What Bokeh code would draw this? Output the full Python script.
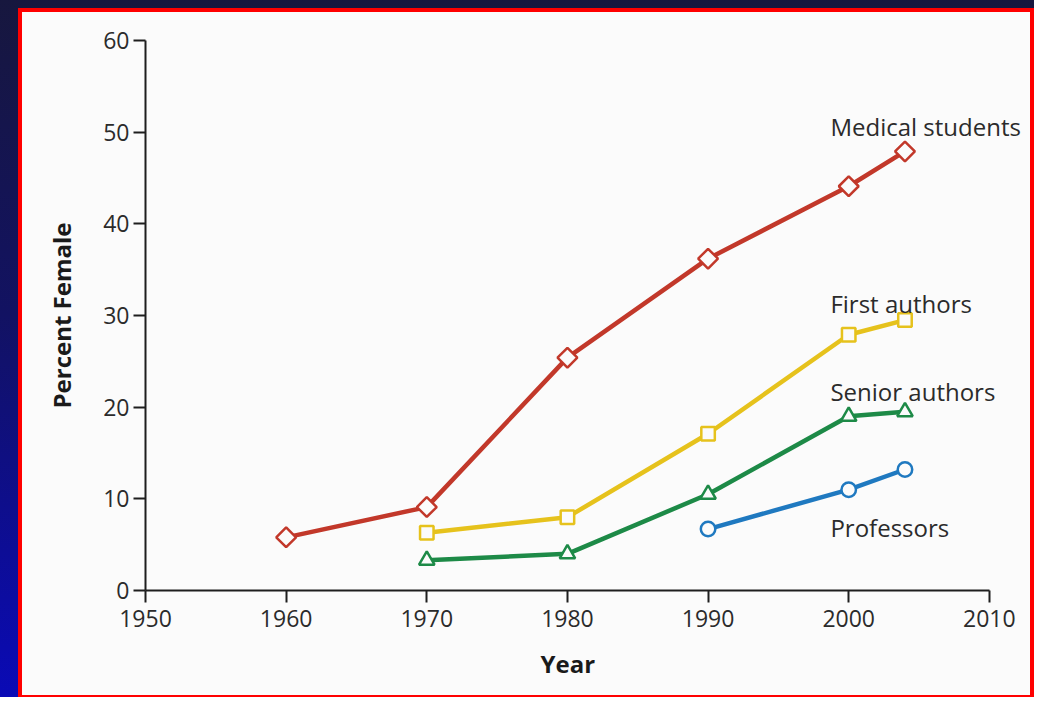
from bokeh.plotting import figure
from bokeh.layouts import column
from bokeh.models import Range1d, FixedTicker
from bokeh.core.properties import value
from bokeh.embed import file_html
from bokeh.resources import INLINE
import math

# ---- data ----
years_med = [1960, 1970, 1980, 1990, 2000, 2004]
pct_med = [5.8, 9.1, 25.4, 36.2, 44.1, 47.9]
years_first = [1970, 1980, 1990, 2000, 2004]
pct_first = [6.3, 8.0, 17.1, 27.9, 29.5]
years_senior = [1970, 1980, 1990, 2000, 2004]
pct_senior = [3.3, 4.0, 10.5, 19.0, 19.5]
years_prof = [1990, 2000, 2004]
pct_prof = [6.7, 11.0, 13.2]
series_names = ["Medical students", "First authors", "Senior authors", "Professors"]
x_ticks = [1950, 1960, 1970, 1980, 1990, 2000, 2010]
y_ticks = [0, 10, 20, 30, 40, 50, 60]

# ---- styling / positions ----
RED = "#c2382a"
YEL = "#e6c21c"
GRN = "#1d8a47"
BLU = "#1f79c0"
PANEL = "#fbfbfb"
FONT = "Open Sans"
label_x = [1998.7, 1998.7, 1998.7, 1998.7]
label_y = [50.6, 31.3, 21.7, 6.9]

# the frame runs a little past 2010 so the series labels are not clipped;
# the x axis itself stops at 2010 (bounds)
p = figure(width=1008, height=683,
           x_range=Range1d(1950, 2012.57), y_range=Range1d(0, 60),
           output_backend="svg", toolbar_location=None,
           title="Year", title_location="below",
           min_border_left=123, min_border_right=5,
           min_border_top=28, min_border_bottom=105,
           background_fill_color=PANEL, border_fill_color=PANEL,
           outline_line_color=None, margin=(4, 4, 2, 4),
           styles={"background-color": PANEL})
p.grid.visible = False

for ax, ticks in ((p.xaxis[0], x_ticks), (p.yaxis[0], y_ticks)):
    ax.ticker = FixedTicker(ticks=ticks)
    ax.axis_line_width = 2
    ax.axis_line_color = "#1e1e1e"
    ax.major_tick_line_width = 2
    ax.major_tick_line_color = "#1e1e1e"
    ax.major_tick_out = 12
    ax.major_tick_in = 0
    ax.minor_tick_line_color = None
    ax.major_label_text_font = FONT
    ax.major_label_text_font_size = "23px"
    ax.major_label_text_color = "#2b2b2b"
    ax.axis_label_text_font = FONT
    ax.axis_label_text_font_size = "24px"
    ax.axis_label_text_font_style = "bold"
    ax.axis_label_text_color = "#1a1a1a"

p.xaxis.bounds = (1950, 2010)
p.yaxis.axis_label = "Percent Female"
p.xaxis.major_label_standoff = 7
p.yaxis.major_label_standoff = 4
p.yaxis.axis_label_standoff = 22

# x-axis title ("Year"), centred under 1980 like the original
p.title.text_font = FONT
p.title.text_font_size = "24px"
p.title.text_font_style = "bold"
p.title.text_color = "#1a1a1a"
p.title.align = "left"
p.title.offset = 395
p.title.standoff = 30

# lines
p.line(years_med, pct_med, line_color=RED, line_width=4.5)
p.line(years_first, pct_first, line_color=YEL, line_width=4.5)
p.line(years_senior, pct_senior, line_color=GRN, line_width=4.5)
p.line(years_prof, pct_prof, line_color=BLU, line_width=4.5)

# markers
p.scatter(years_med, pct_med, marker="square", angle=math.pi / 4, size=14,
          fill_color=PANEL, line_color=RED, line_width=2.5)
p.scatter(years_first, pct_first, marker="square", size=13.5,
          fill_color=PANEL, line_color=YEL, line_width=2.5)
p.scatter(years_senior, pct_senior, marker="triangle", size=15.5,
          fill_color=PANEL, line_color=GRN, line_width=2.5)
p.scatter(years_prof, pct_prof, marker="circle", size=14.5,
          fill_color=PANEL, line_color=BLU, line_width=2.5)

# series labels
p.text(x=label_x, y=label_y, text=series_names,
       text_font=value(FONT), text_font_size="24px",
       text_color="#2b2b2b", text_baseline="alphabetic", text_align="left")

inner = column(p, width=1016, height=689, margin=(8, 0, 0, 18),
               styles={"background-color": "#ff0000"})
outer = column(inner, width=1034, height=697,
               styles={"background": "linear-gradient(to bottom, #17173e 0%, #121262 45%, #0a0ab6 100%)"})

open("out.html", "w").write(file_html(outer, INLINE))
